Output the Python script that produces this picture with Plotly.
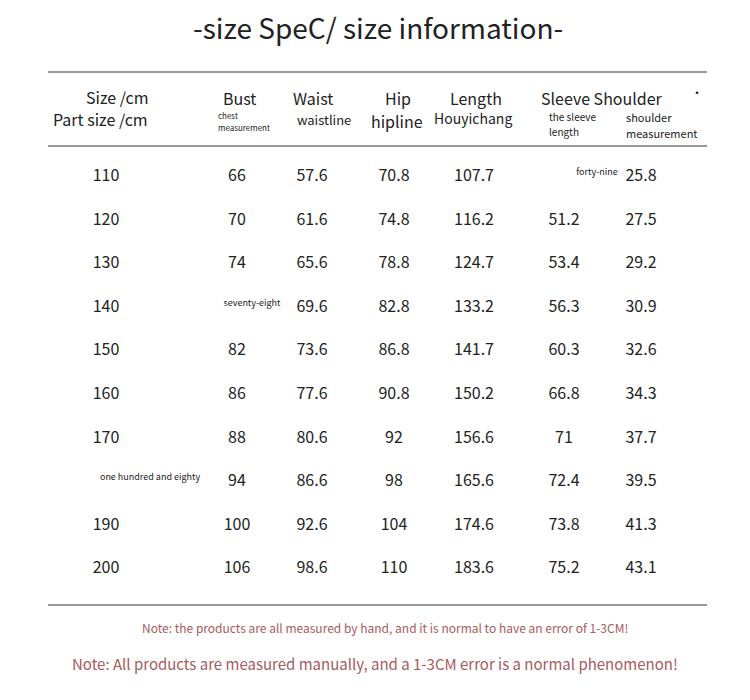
import plotly.graph_objects as go

sizes = ["110","120","130","140","150","160","170","one hundred and eighty","190","200"]
bust = ["66","70","74","seventy-eight","82","86","88","94","100","106"]
waist = ["57.6","61.6","65.6","69.6","73.6","77.6","80.6","86.6","92.6","98.6"]
hip = ["70.8","74.8","78.8","82.8","86.8","90.8","92","98","104","110"]
length = ["107.7","116.2","124.7","133.2","141.7","150.2","156.6","165.6","174.6","183.6"]
sleeve = ["forty-nine","51.2","53.4","56.3","60.3","66.8","71","72.4","73.8","75.2"]
shoulder = ["25.8","27.5","29.2","30.9","32.6","34.3","37.7","39.5","41.3","43.1"]

title = "-size SpeC/ size information-"
note1 = "Note: the products are all measured by hand, and it is normal to have an error of 1-3CM!"
note2 = "Note: All products are measured manually, and a 1-3CM error is a normal phenomenon!"

FONT = "Noto Sans CJK SC"
cols = [(sizes, 106), (bust, 237), (waist, 312), (hip, 394), (length, 474), (sleeve, 564), (shoulder, 641)]

fig = go.Figure()
for vals, x in cols:
    ys, xs, fs = [], [], []
    for i, v in enumerate(vals):
        small = not v.replace(".", "").isdigit()
        ys.append(177 + i * 43.6 - (4 if small else 0))
        if small:
            xs.append({106: 150, 237: 252, 564: 597}[x])
        else:
            xs.append(x)
        fs.append(9 if small else 16)
    fig.add_trace(go.Scatter(x=xs, y=ys, text=vals, mode="text",
                             textfont=dict(family=FONT, size=fs, color="#222"),
                             hoverinfo="skip", showlegend=False))

def ann(x, y, t, s, color="#222", xanchor="center"):
    fig.add_annotation(x=x, y=y, text=t, showarrow=False, xanchor=xanchor,
                       font=dict(family=FONT, size=s, color=color))

ann(378, 27, title, 28)
ann(117, 97, "Size /cm", 16)
ann(100, 119, "Part size /cm", 16)
ann(239, 98, "Bust", 16)
ann(216, 115, "chest", 8, xanchor="left")
ann(216, 127, "measurement", 8, xanchor="left")
ann(313, 98, "Waist", 16)
ann(324, 119, "waistline", 13)
ann(398, 98, "Hip", 16)
ann(397, 121, "hipline", 16)
ann(476, 98, "Length", 16)
ann(473, 118, "Houyichang", 14)
ann(602, 98, "Sleeve Shoulder", 16)
ann(547, 116, "the sleeve", 10, xanchor="left")
ann(547, 131, "length", 10, xanchor="left")
ann(624, 117, "shoulder", 11, xanchor="left")
ann(624, 133, "measurement", 11, xanchor="left")
ann(697, 92, "·", 12)
ann(385, 627, note1, 12, color="#a85a5e")
ann(375, 663, note2, 15, color="#a85a5e")

for y in (72, 146, 605):
    fig.add_shape(type="line", x0=48, x1=707, y0=y, y1=y, line=dict(color="#333", width=1))

fig.update_layout(width=750, height=700, margin=dict(l=0, r=0, t=0, b=0),
                  plot_bgcolor="white", paper_bgcolor="white",
                  xaxis=dict(range=[8, 758], visible=False),
                  yaxis=dict(range=[708, 8], visible=False))
fig.write_html("out.html")
